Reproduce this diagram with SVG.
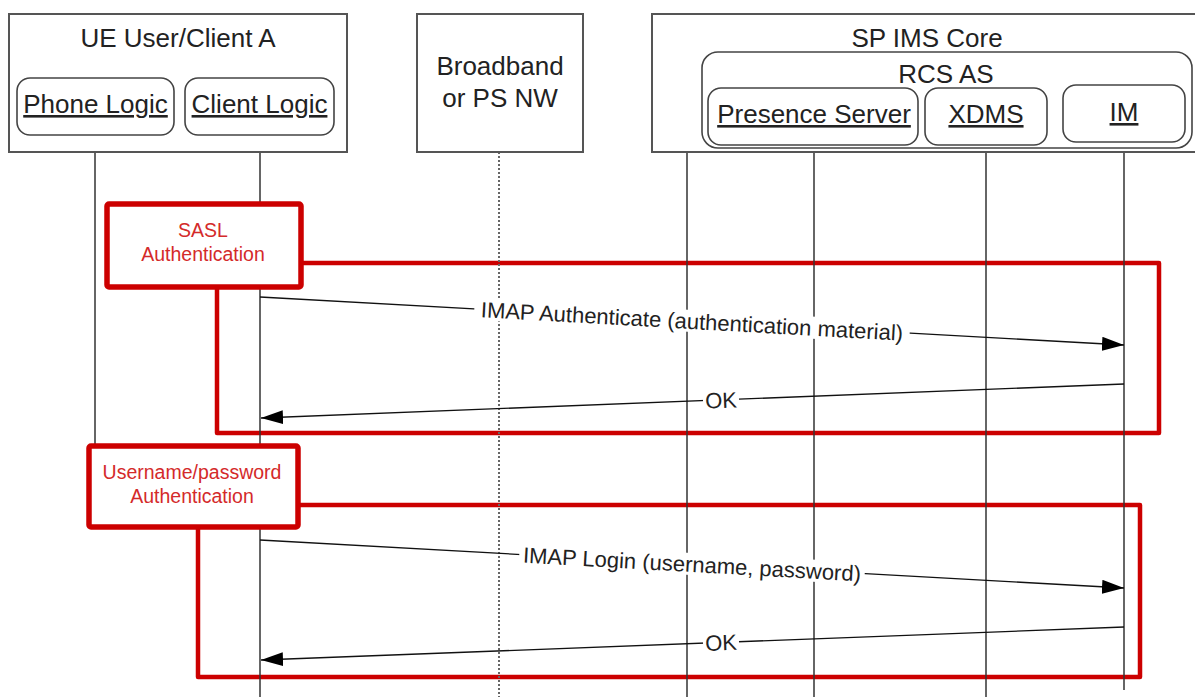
<svg xmlns="http://www.w3.org/2000/svg" width="1195" height="697" viewBox="0 0 1195 697">
<style>
  .box{fill:#fff;stroke:#555;stroke-width:2}
  .rbox{fill:#fff;stroke:#444;stroke-width:1.6}
  .t{font-family:"Liberation Sans",Arial,sans-serif;font-size:26px;fill:#222;text-anchor:middle}
  .u{text-decoration:underline}
  .life{stroke:#333;stroke-width:1.5;fill:none}
  .dot{stroke:#666;stroke-width:2;stroke-dasharray:2,2;fill:none}
  .msg{stroke:#111;stroke-width:1.3;fill:none;marker-end:url(#ah)}
  .ml{font-family:"Liberation Sans",Arial,sans-serif;font-size:22px;fill:#222;text-anchor:middle}
  .bg{fill:#fff}
  .frame{fill:none;stroke:#cc0000;stroke-width:4.5;stroke-linejoin:round}
  .lbl{fill:#fff;stroke:#cc0000;stroke-width:5.5;stroke-linejoin:round}
  .rt{font-family:"Liberation Sans",Arial,sans-serif;font-size:19.5px;fill:#d42a2a;text-anchor:middle}
</style>
<defs>
  <marker id="ah" markerUnits="userSpaceOnUse" markerWidth="22" markerHeight="14" viewBox="0 0 22 14" refX="22" refY="7" orient="auto">
    <path d="M0,0 L22,7 L0,14 z" fill="#000"/>
  </marker>
</defs>

<g id="frames">
  <path class="frame" d="M301,263 H1159 V433 H217 V287"/>
  <path class="frame" d="M298,505 H1140 V677 H198 V527"/>
</g>

<g id="lifelines">
  <line class="life" x1="95" y1="135" x2="95" y2="446"/>
  <line class="life" x1="260" y1="135" x2="260" y2="697"/>
  <line class="dot" x1="499" y1="152" x2="499" y2="697"/>
  <line class="life" x1="687" y1="152" x2="687" y2="697"/>
  <line class="life" x1="814" y1="145" x2="814" y2="697"/>
  <line class="life" x1="986" y1="145" x2="986" y2="697"/>
  <line class="life" x1="1124" y1="142" x2="1124" y2="690"/>
</g>

<g id="ue">
  <rect class="box" x="9" y="14" width="338" height="138"/>
  <text class="t" x="178" y="47">UE User/Client A</text>
  <g id="phone">
    <rect class="rbox" x="17" y="78" width="157" height="57" rx="13"/>
    <text class="t u" x="95.5" y="113">Phone Logic</text>
  </g>
  <g id="client">
    <rect class="rbox" x="185" y="78" width="149" height="57" rx="13"/>
    <text class="t u" x="259.5" y="113">Client Logic</text>
  </g>
</g>

<g id="broadband">
  <rect class="box" x="417" y="14" width="166" height="138"/>
  <text class="t" x="500" y="75">Broadband</text>
  <text class="t" x="500" y="107">or PS NW</text>
</g>

<g id="spims">
  <rect class="box" x="652" y="14" width="560" height="138"/>
  <text class="t" x="927" y="47">SP IMS Core</text>
  <g id="rcsas">
    <rect class="rbox" x="702" y="52" width="490" height="96" rx="16"/>
    <text class="t" x="946" y="83">RCS AS</text>
  </g>
  <g id="presence">
    <rect class="rbox" x="708" y="88" width="210" height="57" rx="13"/>
    <text class="t u" x="814" y="123">Presence Server</text>
  </g>
  <g id="xdms">
    <rect class="rbox" x="925" y="88" width="122" height="57" rx="13"/>
    <text class="t u" x="986" y="123">XDMS</text>
  </g>
  <g id="im">
    <rect class="rbox" x="1063" y="85" width="122" height="57" rx="13"/>
    <text class="t u" x="1124" y="121">IM</text>
  </g>
</g>

<g id="sasl-label">
  <rect class="lbl" x="107" y="204" width="194" height="83" rx="2"/>
  <text class="rt" x="203" y="237">SASL</text>
  <text class="rt" x="203" y="261">Authentication</text>
</g>

<g id="userpass-label">
  <rect class="lbl" x="89" y="446" width="209" height="81" rx="2"/>
  <text class="rt" x="192" y="479">Username/password</text>
  <text class="rt" x="192" y="503">Authentication</text>
</g>

<g id="connectors">
  <line class="msg" x1="260" y1="297" x2="1124" y2="345"/>
  <g transform="rotate(3.18 692 321)">
    <rect class="bg" x="474" y="310" width="436" height="22"/>
    <text class="ml" x="692" y="329">IMAP Authenticate (authentication material)</text>
  </g>
  <line class="msg" x1="1124" y1="384" x2="261" y2="418"/>
  <g transform="rotate(-2.26 721 400)">
    <rect class="bg" x="703" y="389" width="36" height="22"/>
    <text class="ml" x="721" y="408">OK</text>
  </g>
  <line class="msg" x1="260" y1="540" x2="1124" y2="588"/>
  <g transform="rotate(3.18 692 564)">
    <rect class="bg" x="519" y="553" width="346" height="22"/>
    <text class="ml" x="692" y="572">IMAP Login (username, password)</text>
  </g>
  <line class="msg" x1="1124" y1="627" x2="261" y2="660"/>
  <g transform="rotate(-2.19 721 642.4)">
    <rect class="bg" x="703" y="631.4" width="36" height="22"/>
    <text class="ml" x="721" y="650.4">OK</text>
  </g>
</g>
</svg>
